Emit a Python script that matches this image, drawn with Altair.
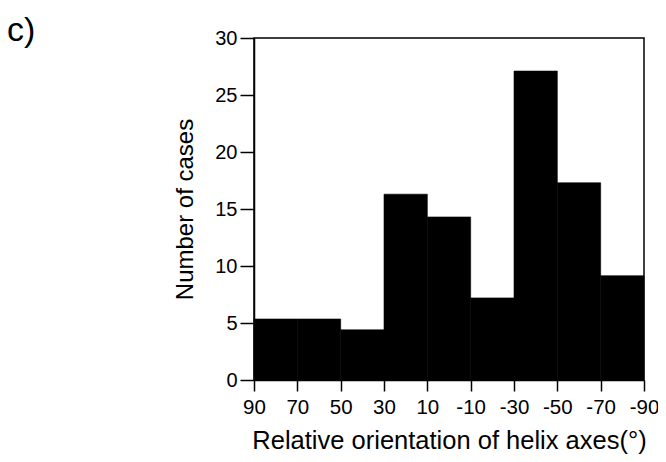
import altair as alt
import pandas as pd

bin_start = [90, 70, 50, 30, 10, -10, -30, -50, -70]
bin_end = [70, 50, 30, 10, -10, -30, -50, -70, -90]
counts = [5.35, 5.35, 4.4, 16.3, 14.3, 7.2, 27.1, 17.3, 9.15]
x_ticks = [90, 70, 50, 30, 10, -10, -30, -50, -70, -90]
y_ticks = [0, 5, 10, 15, 20, 25, 30]
panel_label = ["c)"]

df = pd.DataFrame({"start": bin_start, "end": bin_end, "count": counts})
lab = pd.DataFrame({"t": panel_label})

FONT = "Liberation Sans"

bars = alt.Chart(df).mark_rect(color="black", stroke="black", strokeWidth=0.6).encode(
    x=alt.X("start:Q",
            scale=alt.Scale(domain=[-90, 90], reverse=True, nice=False, zero=False),
            axis=alt.Axis(values=x_ticks, title="Relative orientation of helix axes(°)",
                          labelExpr="datum.value + ''",
                          grid=False, tickSize=11, tickWidth=1.5, domainWidth=1.5,
                          domainColor="black", tickColor="black",
                          labelFontSize=20.5, labelColor="black", labelFont=FONT,
                          labelPadding=6, labelFlush=False,
                          titleFontSize=25.5, titleFont=FONT, titleFontWeight="normal",
                          titleColor="black", titlePadding=11)),
    x2="end:Q",
    y=alt.Y("count:Q",
            scale=alt.Scale(domain=[0, 30], nice=False),
            axis=alt.Axis(values=y_ticks, title="Number of cases",
                          grid=False, tickSize=14, tickWidth=1.5, domainWidth=1.5,
                          domainColor="black", tickColor="black",
                          labelFontSize=20, labelColor="black", labelFont=FONT,
                          labelPadding=3, labelFlush=False,
                          titleFontSize=24, titleFont=FONT, titleFontWeight="normal",
                          titleColor="black", titlePadding=17)),
    y2=alt.datum(0),
)

label = alt.Chart(lab).mark_text(
    font=FONT, fontSize=34, align="left", baseline="alphabetic", color="black"
).encode(text="t:N", x=alt.value(-247), y=alt.value(3))

chart = alt.layer(bars, label).properties(
    width=390, height=342,
    background="white",
    autosize=alt.AutoSizeParams(type="none"),
    padding={"left": 246, "top": 30, "right": 14, "bottom": 74},
).configure_view(stroke="black", strokeWidth=1.5)

chart.save("out.html", embed_options={"renderer": "svg", "actions": False})
